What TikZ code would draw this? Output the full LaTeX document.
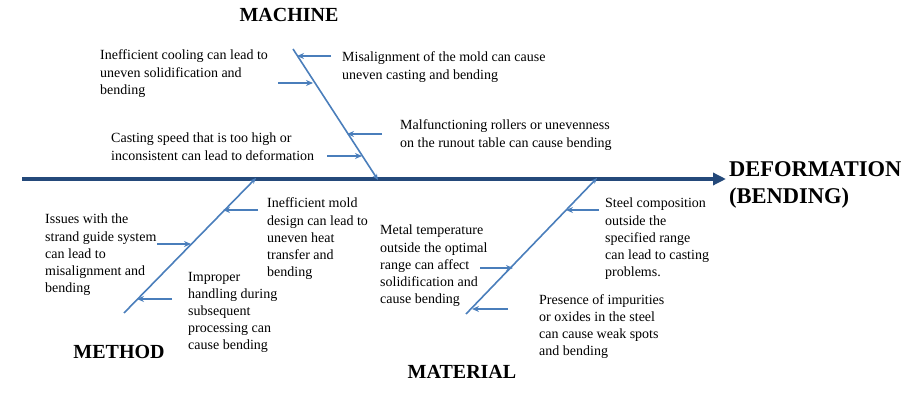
\documentclass[tikz,border=0pt]{standalone}
\usepackage{fontspec}
\setmainfont{Liberation Serif}
\usetikzlibrary{arrows.meta}
\definecolor{spinecol}{HTML}{24497A}
\definecolor{bonecol}{HTML}{4A7EBB}
\begin{document}
\begin{tikzpicture}[x=1pt,y=-1pt,
  txt/.style={align=left, anchor=base west, inner sep=0pt, font=\fontsize{14}{17.2}\selectfont},
  head/.style={anchor=base, inner sep=0pt, font=\fontsize{20}{24}\selectfont\bfseries},
  spine/.style={draw=spinecol, line width=4pt, -{Triangle[length=13pt,width=12pt]}},
  bone/.style={draw=bonecol, line width=1.6pt, -{Stealth[length=6pt,width=5pt]}},
  sub/.style={draw=bonecol, line width=1.6pt, -{Stealth[length=7pt,width=6pt]}}]
\useasboundingbox (0,0) rectangle (912,411);
% spine
\coordinate (s0) at (22,179);
\coordinate (s1) at (726,179);
\draw[spine] (s0) -- (s1);
% bones
\coordinate (mA) at (293,49);  \coordinate (mB) at (378,180);
\coordinate (tA) at (124,313); \coordinate (tB) at (256,178);
\coordinate (lA) at (466,314); \coordinate (lB) at (597,178);
\draw[bone] (mA) -- (mB);
\draw[bone] (tA) -- (tB);
\draw[bone] (lA) -- (lB);
% machine sub arrows
\coordinate (m1a) at (331,56);  \coordinate (m1b) at (297,56);
\coordinate (m2a) at (278,83);  \coordinate (m2b) at (313,83);
\coordinate (m3a) at (382,134); \coordinate (m3b) at (347,134);
\coordinate (m4a) at (327,156); \coordinate (m4b) at (362,156);
\draw[sub] (m1a) -- (m1b);
\draw[sub] (m2a) -- (m2b);
\draw[sub] (m3a) -- (m3b);
\draw[sub] (m4a) -- (m4b);
% method sub arrows
\coordinate (t1a) at (258,210); \coordinate (t1b) at (223,210);
\coordinate (t2a) at (157,244); \coordinate (t2b) at (191,244);
\coordinate (t3a) at (172,299); \coordinate (t3b) at (137,299);
\draw[sub] (t1a) -- (t1b);
\draw[sub] (t2a) -- (t2b);
\draw[sub] (t3a) -- (t3b);
% material sub arrows
\coordinate (l1a) at (599,210); \coordinate (l1b) at (566,210);
\coordinate (l2a) at (480,268); \coordinate (l2b) at (513,268);
\coordinate (l3a) at (508,309); \coordinate (l3b) at (472,309);
\draw[sub] (l1a) -- (l1b);
\draw[sub] (l2a) -- (l2b);
\draw[sub] (l3a) -- (l3b);
% headings
\node[head] (hmach) at (289,22) {MACHINE};
\node[head] (hmeth) at (119,358) {METHOD};
\node[head] (hmat) at (462,378) {MATERIAL};
\node[anchor=base west, inner sep=0pt, align=left, font=\fontsize{22.5}{27}\selectfont\bfseries] (heff) at (729,204) {DEFORMATION\\(BENDING)};
% machine texts (anchor = baseline of last line)
\node[txt] (c1) at (100,94.4) {Inefficient cooling can lead to\\uneven solidification and\\bending};
\node[txt] (c2) at (342,79.2) {Misalignment of the mold can cause\\uneven casting and bending};
\node[txt] (c3) at (400,147.2) {Malfunctioning rollers or unevenness\\on the runout table can cause bending};
\node[txt] (c4) at (111,160.2) {Casting speed that is too high or\\inconsistent can lead to deformation};
% method texts
\node[txt] (c5) at (267,276.8) {Inefficient mold\\design can lead to\\uneven heat\\transfer and\\bending};
\node[txt] (c6) at (45,292.8) {Issues with the\\strand guide system\\can lead to\\misalignment and\\bending};
\node[txt] (c7) at (188,349.8) {Improper\\handling during\\subsequent\\processing can\\cause bending};
% material texts
\node[txt] (c8) at (380,303.8) {Metal temperature\\outside the optimal\\range can affect\\solidification and\\cause bending};
\node[txt] (c9) at (605,276.8) {Steel composition\\outside the\\specified range\\can lead to casting\\problems.};
\node[txt] (c10) at (539,355.6) {Presence of impurities\\or oxides in the steel\\can cause weak spots\\and bending};
\end{tikzpicture}
\end{document}
